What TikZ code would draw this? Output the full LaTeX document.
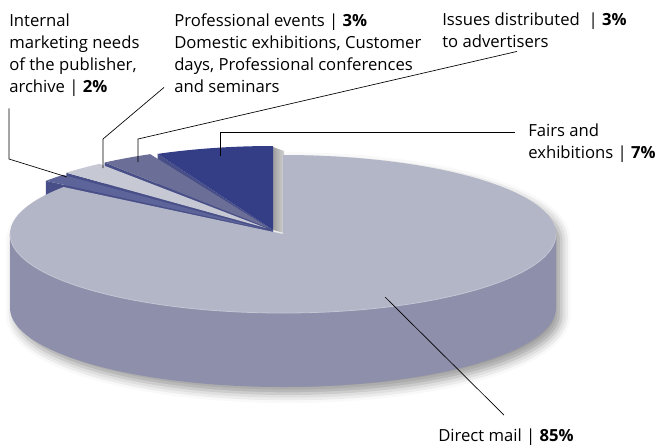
\documentclass[tikz,border=0pt]{standalone}
\usepackage{fontspec}
\setmainfont{Open Sans}
\usepackage{tikz}
\usetikzlibrary{shadows.blur}
\definecolor{mainTop}{RGB}{179,182,199}
\definecolor{mainSide}{RGB}{142,144,171}
\definecolor{mainRim}{RGB}{196,198,212}
\definecolor{fairsBlue}{RGB}{52,62,134}
\definecolor{issuesSlate}{RGB}{107,111,151}
\definecolor{eventsLight}{RGB}{198,200,212}
\definecolor{internalSlate}{RGB}{93,100,153}
\definecolor{cutDark}{RGB}{72,79,136}

\begin{document}
\begin{tikzpicture}[x=0.75pt,y=0.75pt,yscale=-1,xscale=1,
    lbl/.style={anchor=base west,inner sep=0pt,align=left,font=\fontsize{12.5}{16.5}\selectfont},
    leader/.style={draw=black,line width=0.5pt},
    cutface/.style={fill=cutDark}]
\useasboundingbox (0,0) rectangle (656,447);

% soft shadow under the pie
\path[blur shadow={shadow xshift=4pt,shadow yshift=-5pt,shadow blur radius=7pt,shadow opacity=40}]
  (283,234) -- ++(-143.5:273 and 79) arc[start angle=-143.5,end angle=-180,x radius=273,y radius=79]
  -- ++(0,74) arc[start angle=-180,end angle=-360,x radius=273,y radius=79]
  -- ++(0,-74) arc[start angle=-360,end angle=-450,x radius=273,y radius=79] -- cycle;

% shadow strip beside the exploded wedge
\shade[left color=black!38,right color=black!18] (273,147) -- (284,151) -- (284,233) -- (273,230) -- cycle;

% exploded wedges, back to front
\fill[cutface] (273,230) -- ++(-115:273 and 84) -- ++(0,74) -- (273,304) -- cycle;
\fill[fairsBlue] (273,230) -- ++(-90:273 and 84) arc[start angle=-90,end angle=-115,x radius=273,y radius=84] -- cycle;

\fill[cutface] (269,228) -- ++(-127:273 and 82) -- ++(0,74) -- (269,302) -- cycle;
\fill[issuesSlate] (269,228) -- ++(-115.8:273 and 82) arc[start angle=-115.8,end angle=-127,x radius=273,y radius=82] -- cycle;

\fill[cutface] (266,228) -- ++(-137:273 and 81) -- ++(0,74) -- (266,302) -- cycle;
\fill[eventsLight] (266,228) -- ++(-127.6:273 and 81) arc[start angle=-127.6,end angle=-137,x radius=273,y radius=81] -- cycle;

\fill[cutface] (264,229) -- ++(-143:273 and 80) -- ++(0,74) -- (264,303) -- cycle;
\fill[internalSlate] (264,229) -- ++(-137.4:273 and 80) arc[start angle=-137.4,end angle=-143,x radius=273,y radius=80] -- cycle;

% main slice: side, then top
\fill[mainSide] (10,234) -- (10,308) arc[start angle=-180,end angle=-360,x radius=273,y radius=79]
  -- (556,234) arc[start angle=-360,end angle=-180,x radius=273,y radius=79] -- cycle;
\fill[mainTop] (283,234) -- ++(-143.5:273 and 79) arc[start angle=-143.5,end angle=-450,x radius=273,y radius=79] -- cycle;
\draw[mainRim,line width=0.6pt] (10,234) arc[start angle=-180,end angle=-360,x radius=273,y radius=79];

% labels (base = last line)
\node[lbl] (lblInternal) at (9,92) {Internal\\marketing needs\\of the publisher,\\archive | \textbf{2\%}};
\node[lbl] (lblEvents) at (174,92) {Professional events | \textbf{3\%}\\Domestic exhibitions, Customer\\days, Professional conferences\\and seminars};
\node[lbl] (lblIssues) at (442,47) {Issues distributed\ \ | \textbf{3\%}\\to advertisers};
\node[lbl] (lblFairs) at (528,158) {Fairs and\\exhibitions | \textbf{7\%}};
\node[lbl] (lblMail) at (438,441) {Direct mail | \textbf{85\%}};

% leader ends on the pie
\coordinate (tipInternal) at (67,177);
\coordinate (tipEvents) at (103,168);
\coordinate (tipIssues) at (138,162);
\coordinate (tipFairs) at (220,156);
\coordinate (tipMail) at (385,297);

\draw[leader] (lblInternal.south west) ++(0,12) -- (9,159) -- (tipInternal);
\draw[leader] (lblEvents.south west) ++(-10,-5) -- (103,139) -- (tipEvents);
\draw[leader] (lblIssues.south west) ++(75,4) -- (138,139) -- (tipIssues);
\draw[leader] (lblFairs.base west) ++(-13,-26) -- (220,132) -- (tipFairs);
\draw[leader] (lblMail.north west) ++(66,-13) -- (tipMail);
\end{tikzpicture}
\end{document}
